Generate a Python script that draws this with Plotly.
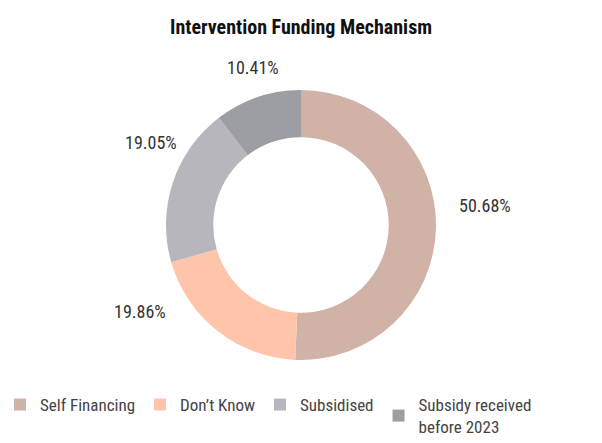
import plotly.graph_objects as go

# Funding mechanism shares (%)
categories = ["Self Financing", "Don’t Know", "Subsidised", "Subsidy received<br>before 2023"]
shares = [50.68, 19.86, 19.05, 10.41]
colors = ["#D0B2A7", "#FFC5AA", "#B7B6BC", "#9D9EA3"]

# Where each percentage label sits (paper coordinates)
label_x = [485 / 602, 140 / 602, 151 / 602, 253 / 602]
label_y = [1 - 205 / 443, 1 - 311 / 443, 1 - 142 / 443, 1 - 68 / 443]

FONT = "Liberation Sans Narrow, Roboto Condensed, DejaVu Sans Condensed, Arial Narrow, sans-serif"

fig = go.Figure(
    go.Pie(
        labels=categories,
        values=shares,
        marker=dict(colors=colors, line=dict(width=0)),
        hole=0.65,
        sort=False,
        direction="clockwise",
        rotation=0,
        textinfo="none",
        hoverinfo="label+percent",
        domain=dict(x=[0, 1], y=[1 - 360 / 443, 1 - 90 / 443]),
    )
)

annotations = [
    dict(
        x=x, y=y, xref="paper", yref="paper",
        text=f"{v:.2f}%", showarrow=False,
        font=dict(family=FONT, size=18, color="#333333"),
        xanchor="center", yanchor="middle",
    )
    for x, y, v in zip(label_x, label_y, shares)
]
annotations.append(
    dict(
        x=0.5, y=1 - 27 / 443, xref="paper", yref="paper",
        text="<b>Intervention Funding Mechanism</b>", showarrow=False,
        font=dict(family=FONT, size=20, color="#111111"),
        xanchor="center", yanchor="middle",
    )
)

fig.update_layout(
    width=602,
    height=443,
    margin=dict(l=0, r=0, t=0, b=0, autoexpand=False),
    paper_bgcolor="white",
    plot_bgcolor="white",
    annotations=annotations,
    showlegend=True,
    legend=dict(
        orientation="h",
        x=0.0, xanchor="left",
        y=1 - 416 / 443, yanchor="middle",
        font=dict(family=FONT, size=17, color="#444444"),
        itemsizing="constant",
        traceorder="normal",
    ),
)

fig.write_html("out.html")
